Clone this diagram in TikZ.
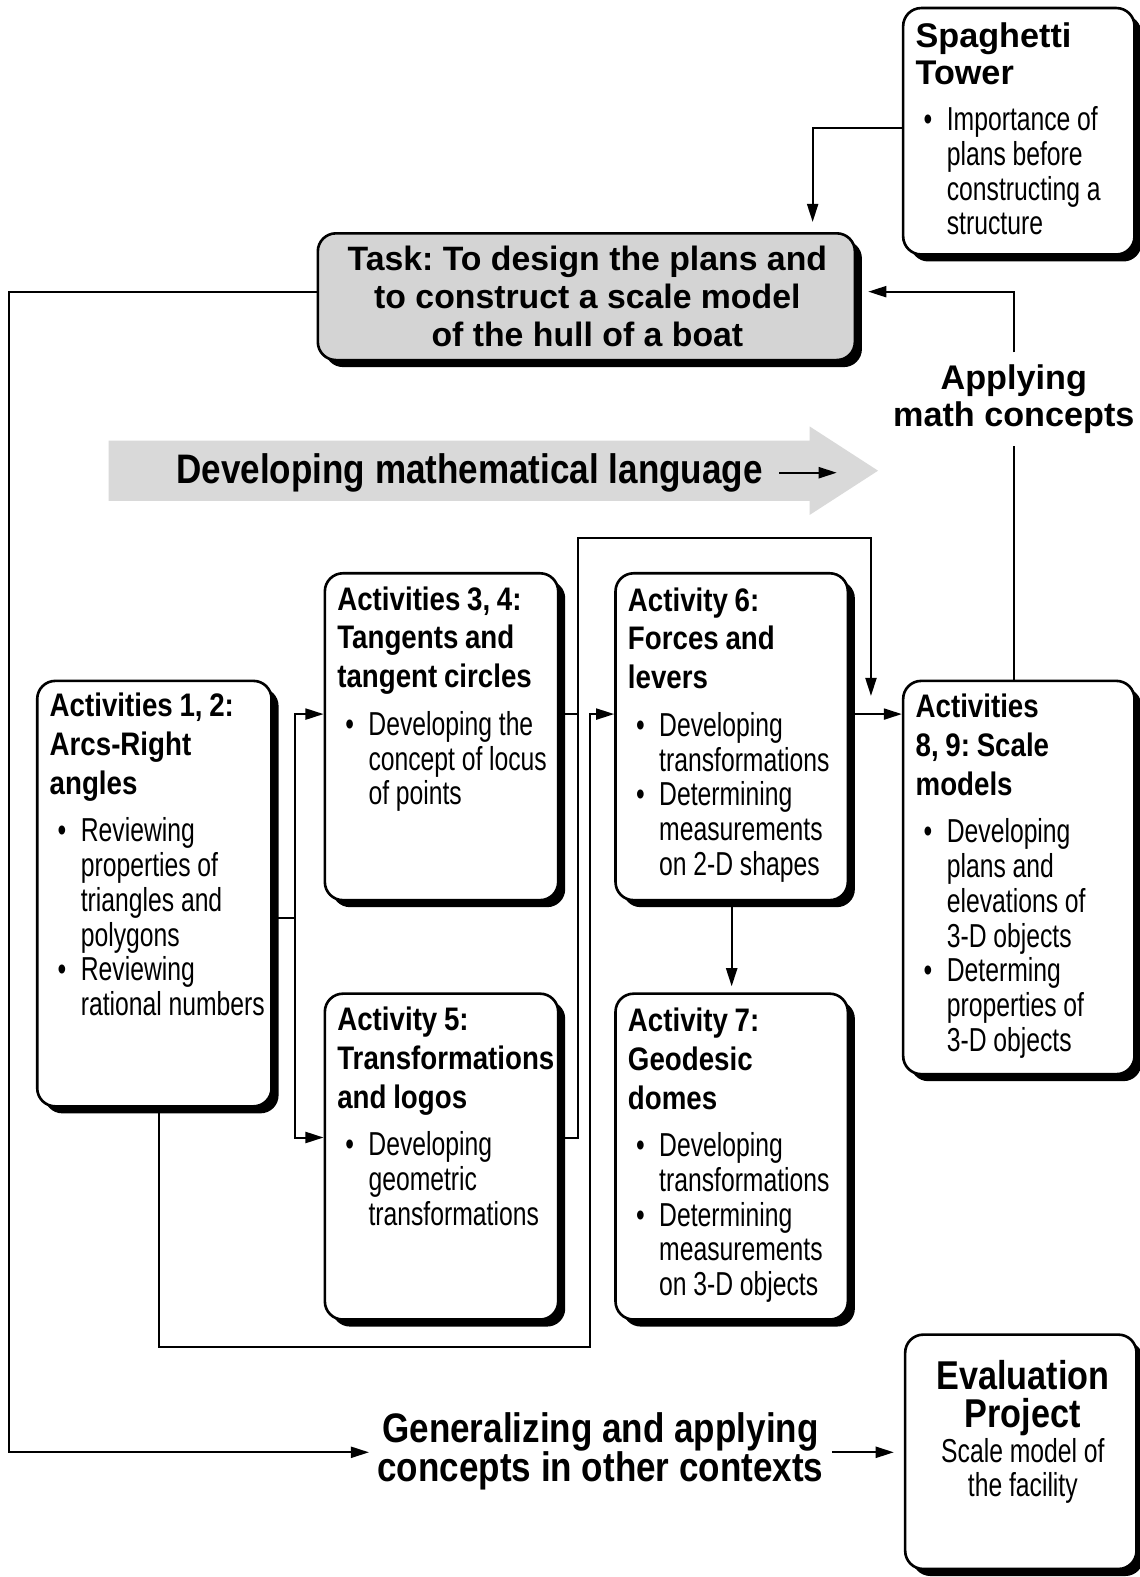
\documentclass[tikz,border=0pt]{standalone}
\usepackage{fontspec}
\setmainfont{Liberation Sans}
\newfontfamily\condf[FakeStretch=0.85]{Liberation Sans}
\newfontfamily\bodyf[FakeStretch=0.745]{Liberation Sans}
\usetikzlibrary{arrows.meta,shadows,fit,backgrounds}
\setlength\parindent{0pt}
\setlength\parskip{0pt}
\setlength\lineskiplimit{-6pt}
\frenchspacing
\newcommand\ttl[1]{{\condf\bfseries\fontsize{16.2}{19.2}\selectfont #1\par}\vspace{6.5pt}}
\newcommand\wttl[1]{{\bfseries\fontsize{17}{18.5}\selectfont #1\par}\vspace{5.75pt}}
\newcommand\bul[1]{{\bodyf\fontsize{16.5}{17.25}\selectfont\hangindent=15.5pt\hangafter=1\noindent\makebox[15.5pt][l]{\hspace{4pt}\textbullet}#1\par}}
\tikzset{
  box/.style={draw, line width=1.3pt, rounded corners=9pt, fill=white, inner sep=0pt,
    drop shadow={shadow xshift=3.5pt, shadow yshift=-3.5pt, fill=black, opacity=1}},
  txt/.style={anchor=north west, inner sep=0pt, text width=140pt},
  conn/.style={line width=1pt},
  arr/.style={-{Triangle[length=9pt,width=5.5pt]}},
}
\begin{document}
\begin{tikzpicture}[x=0.5pt,y=-0.5pt]
\useasboundingbox (0,0) rectangle (1133,1568);
% boxes
\node[box, fit={(898,8) (1128,253)}] (spag) {};
\node[box, fill=black!17, fit={(316,232) (850,358)}] (task) {};
\node[box, fit={(37,677) (270,1100)}] (a12) {};
\node[box, fit={(323,570) (555,895)}] (a34) {};
\node[box, fit={(323,988) (555,1312)}] (a5) {};
\node[box, fit={(612,570) (843,895)}] (a6) {};
\node[box, fit={(612,988) (843,1312)}] (a7) {};
\node[box, fit={(898,677) (1128,1068)}] (a89) {};
\node[box, fit={(900,1327) (1130,1560)}] (ev) {};
% texts
\node[txt] (spagt) at (910,22) {\wttl{Spaghetti\newline Tower}\bul{Importance of\newline plans before\newline constructing a\newline structure}};
\node[inner sep=0pt, align=center, font={\bfseries\fontsize{16.8}{19}\selectfont}] (taskt) at (584,295) {Task: To design the plans and\\to construct a scale model\\of the hull of a boat};
\node[txt] (a12t) at (49,689) {\ttl{Activities 1, 2:\newline Arcs-Right\newline angles}\bul{Reviewing\newline properties of\newline triangles and\newline polygons}\bul{Reviewing\newline rational numbers}};
\node[txt] (a34t) at (335,583) {\ttl{Activities 3, 4:\newline Tangents and\newline tangent circles}\bul{Developing the\newline concept of locus\newline of points}};
\node[txt] (a5t) at (335,1001) {\ttl{Activity 5:\newline Transformations\newline and logos}\bul{Developing\newline geometric\newline transformations}};
\node[txt] (a6t) at (624,584) {\ttl{Activity 6:\newline Forces and\newline levers}\bul{Developing\newline transformations}\bul{Determining\newline measurements\newline on 2-D shapes}};
\node[txt] (a7t) at (624,1002) {\ttl{Activity 7:\newline Geodesic\newline domes}\bul{Developing\newline transformations}\bul{Determining\newline measurements\newline on 3-D objects}};
\node[txt] (a89t) at (910,690) {\ttl{Activities\newline 8, 9: Scale\newline models}\bul{Developing\newline plans and\newline elevations of\newline 3-D objects}\bul{Determing\newline properties of\newline 3-D objects}};
\node[anchor=north, inner sep=0pt, text width=112pt, align=center] (evt) at (1017,1352) {{\condf\bfseries\fontsize{20}{19}\selectfont Evaluation\\Project\par}{\bodyf\fontsize{16.5}{17.25}\selectfont Scale model of\\the facility\par}};
\node[inner xsep=0pt, inner ysep=6pt, align=center, font={\bfseries\fontsize{17}{18.5}\selectfont}] (app) at (1008,397) {Applying\\math concepts};
\node[inner sep=0pt, align=center, font={\condf\bfseries\fontsize{20.5}{19}\selectfont}] (gen) at (597,1443) {Generalizing and applying\\concepts in other contexts};
\node[anchor=west, inner sep=0pt, font={\condf\bfseries\fontsize{20.5}{24}\selectfont}] (dev) at (175,470) {Developing mathematical language};
% coordinates
\coordinate (S) at (808,127);
\coordinate (L1) at (9,290);
\coordinate (L2) at (9,1444);
\coordinate (H1) at (0,710);
\coordinate (H2) at (0,1131);
\coordinate (F1) at (293,913);
\coordinate (V1) at (575,535);
\coordinate (T1) at (866,535);
\coordinate (T2) at (866,692);
\coordinate (B1) at (158,1339);
\coordinate (B2) at (587,1339);
\coordinate (DT) at (832,468);
\begin{pgfonlayer}{background}
\fill[white] (0,0) rectangle (1133,1568);
\fill[black!15] (108,438) -- (805,438) -- (805,424) -- (873,468) -- (805,512) -- (805,498) -- (108,498) -- cycle;
\draw[conn,arr,shorten >=5pt] (spag.west |- S) -| (task.north -| S);
\draw[conn,arr,shorten >=4pt] (task.west |- L1) -- (L1) -- (L2) -- (gen.west |- L2);
\draw[conn,arr,shorten <=4pt,shorten >=5pt] (gen.east |- L2) -- (ev.west |- L2);
\draw[conn,arr,shorten >=6pt] (app.north) |- (task.east |- L1);
\draw[conn] (app.south) -- (a89.north -| app.south);
\draw[conn] (a12.east |- F1) -- (F1);
\draw[conn,arr] (F1) |- (a34.west |- H1);
\draw[conn,arr] (F1) |- (a5.west |- H2);
\draw[conn] (a5.east |- H2) -| (V1);
\draw[conn,arr] (a34.east |- H1) -| (V1) -- (T1) -- (T2);
\draw[conn,arr] (a12.south -| B1) -- (B1) -- (B2) |- (a6.west |- H1);
\draw[conn,arr] (a6.east |- H1) -- (a89.west |- H1);
\draw[conn,arr,shorten >=3pt] (a6.south) -- (a7.north);
\end{pgfonlayer}
\draw[conn,arr] ([xshift=8pt]dev.east) -- (dev.east -| DT);
\end{tikzpicture}
\end{document}
